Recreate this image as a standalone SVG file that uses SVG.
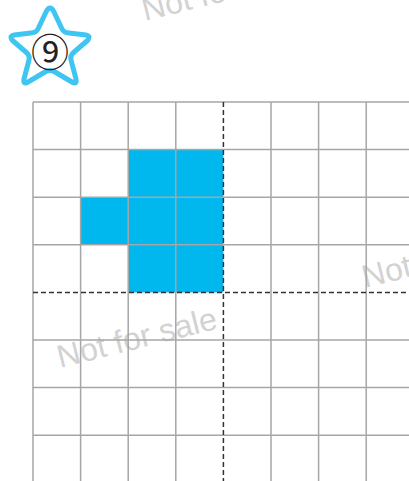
<svg xmlns="http://www.w3.org/2000/svg" width="409" height="481" viewBox="0 0 409 481">
<style>
.cell{fill:#00b7ee}
.grid{stroke:#a6a6a6;stroke-width:1.5;fill:none}
.axis{stroke:#333;stroke-width:1.5;stroke-dasharray:5 3;fill:none}
.wm{font-family:"Liberation Sans",Arial,sans-serif;font-size:32px;fill:#d2d2d2}
</style>
<rect width="409" height="481" fill="#fff"/>
<g id="watermarks">
<text class="wm" transform="translate(145,21) rotate(-14)">Not for sale</text>
<text class="wm" transform="translate(60,368) rotate(-14)">Not for sale</text>
<text class="wm" transform="translate(365,288) rotate(-14)">Not for sale</text>
</g>
<g id="badge">
<path d="M50,8 Q52,8 54,12 L62,29 Q64,33 69,33 L86,35 Q91,36 88,40 L73,53 Q70,56 71,60 L76,79 Q77,85 72,82 L55,72 Q50,69 45,72 L28,82 Q23,85 24,79 L29,60 Q30,56 27,53 L12,40 Q9,36 14,35 L31,33 Q36,33 38,29 L46,12 Q48,8 50,8 Z" fill="none" stroke="#3fc5f1" stroke-width="5" stroke-linejoin="round"/>
<text x="50" y="66" text-anchor="middle" font-family="'Noto Sans CJK SC','DejaVu Sans',sans-serif" font-size="38" fill="#222">⑨</text>
</g>
<g id="shaded">
<rect class="cell" x="128.2" y="149.6" width="95.2" height="142.8"/>
<rect class="cell" x="80.6" y="197.2" width="47.6" height="47.6"/>
</g>
<g id="grid" class="grid">
<path d="M33,102H409M33,149.6H409M33,197.2H409M33,244.8H409M33,340H409M33,387.6H409M33,435.2H409"/>
<path d="M33,102V481M80.6,102V481M128.2,102V481M175.8,102V481M271,102V481M318.6,102V481M366.2,102V481"/>
</g>
<g id="axes" class="axis">
<path d="M223.4,102V481"/>
<path d="M33,292.4H409"/>
</g>
</svg>
